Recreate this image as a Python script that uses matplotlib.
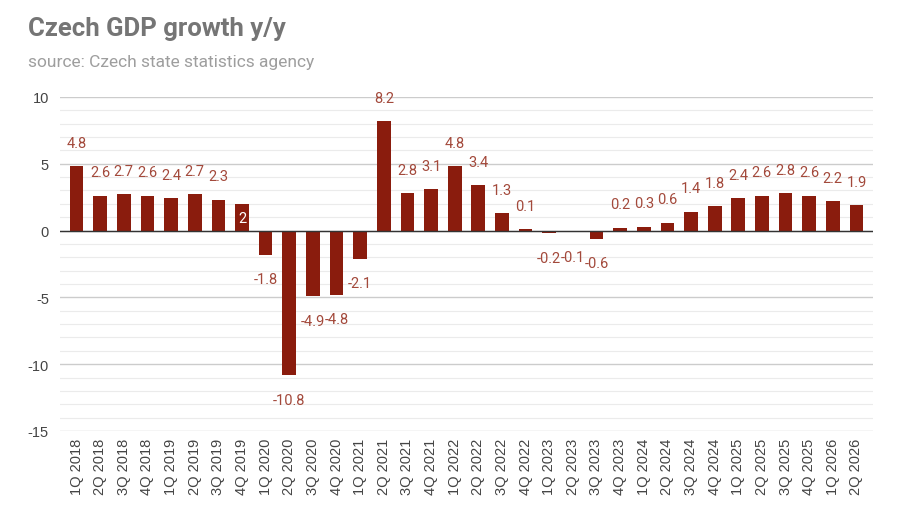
import matplotlib
matplotlib.use('Agg')
import matplotlib.pyplot as plt
import numpy as np

plt.rcParams['font.family'] = ['Roboto', 'DejaVu Sans']
plt.rcParams['axes.unicode_minus'] = False

quarters = ['1Q 2018', '2Q 2018', '3Q 2018', '4Q 2018',
            '1Q 2019', '2Q 2019', '3Q 2019', '4Q 2019',
            '1Q 2020', '2Q 2020', '3Q 2020', '4Q 2020',
            '1Q 2021', '2Q 2021', '3Q 2021', '4Q 2021',
            '1Q 2022', '2Q 2022', '3Q 2022', '4Q 2022',
            '1Q 2023', '2Q 2023', '3Q 2023', '4Q 2023',
            '1Q 2024', '2Q 2024', '3Q 2024', '4Q 2024',
            '1Q 2025', '2Q 2025', '3Q 2025', '4Q 2025',
            '1Q 2026', '2Q 2026']
growth = [4.8, 2.6, 2.7, 2.6, 2.4, 2.7, 2.3, 2,
          -1.8, -10.8, -4.9, -4.8, -2.1, 8.2, 2.8, 3.1,
          4.8, 3.4, 1.3, 0.1, -0.2, -0.1, -0.6, 0.2,
          0.3, 0.6, 1.4, 1.8, 2.4, 2.6, 2.8, 2.6,
          2.2, 1.9]
yticks = [-15, -10, -5, 0, 5, 10]
# label drawn inside the bar (white) instead of above it
inside = ['4Q 2019']

bar_col = '#8a1c0d'
lab_col = '#a3493b'
tick_font = ['Liberation Sans', 'DejaVu Sans']

fig = plt.figure(figsize=(9, 5.1), dpi=100)
ax = fig.add_axes([0.0667, 0.153, 0.9033, 0.655])

x = np.arange(len(quarters))
ax.bar(x, growth, width=0.58, color=bar_col, zorder=3)

for i, v in enumerate(growth):
    if quarters[i] in inside:
        ax.text(i, v - 1.05, f'{v:g}', ha='center', va='center',
                color='white', fontsize=10.5, zorder=4)
    elif v >= 0:
        ax.text(i, v + 1.75, f'{v:g}', ha='center', va='center',
                color=lab_col, fontsize=10.5, zorder=4)
    else:
        ax.text(i, v - 1.85, f'{v:g}', ha='center', va='center',
                color=lab_col, fontsize=10.5, zorder=4)

ax.set_ylim(-15, 10)
ax.set_xlim(-0.7, len(quarters) - 0.3)
ax.set_yticks(yticks)
ax.set_yticklabels([str(t) for t in yticks], family=tick_font)
ax.set_yticks(np.arange(-15, 11, 1), minor=True)
ax.grid(axis='y', which='major', color='#cccccc', linewidth=1, zorder=0)
ax.grid(axis='y', which='minor', color='#ebebeb', linewidth=0.8, zorder=0)
ax.axhline(0, color='#333333', linewidth=1, zorder=3.5)

ax.set_xticks(x)
ax.set_xticklabels(quarters, rotation=90, fontsize=10.5, color='#444444',
                   family=tick_font)
ax.tick_params(axis='y', which='both', length=0, labelsize=10.5,
               labelcolor='#444444', pad=8)
ax.tick_params(axis='x', length=0, pad=5)
for s in ax.spines.values():
    s.set_visible(False)

fig.text(0.031, 0.93, 'Czech GDP growth y/y', fontsize=18.5, fontweight='bold',
         color='#757575', ha='left', va='baseline')
fig.text(0.031, 0.868, 'source: Czech state statistics agency', fontsize=12.5,
         color='#9e9e9e', ha='left', va='baseline')

fig.savefig('out.png', dpi=100)
